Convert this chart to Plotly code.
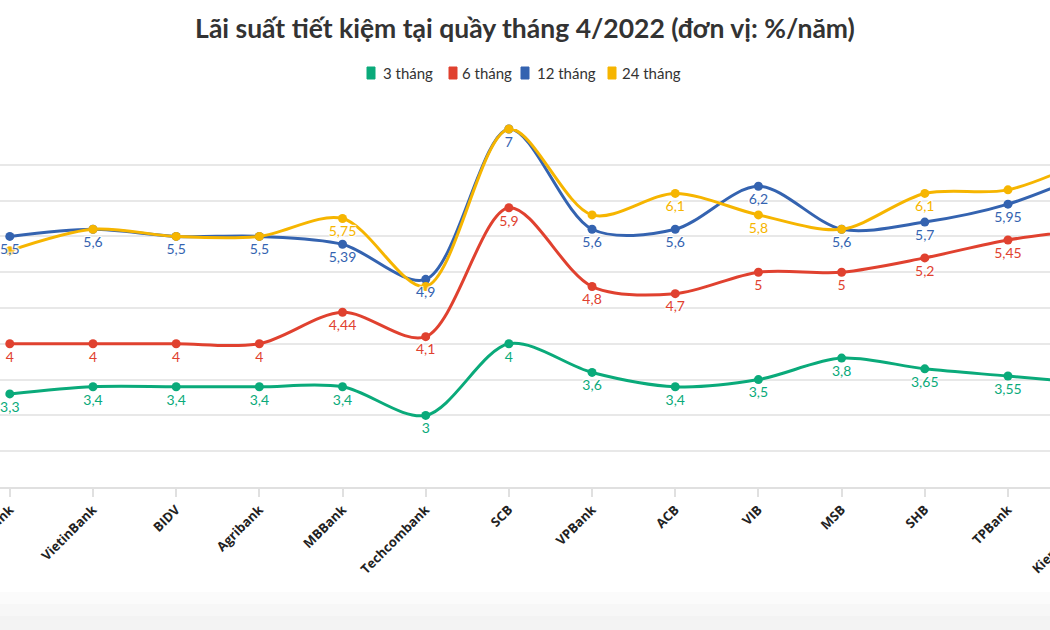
import plotly.graph_objects as go

banks = ["Vietcombank", "VietinBank", "BIDV", "Agribank", "MBBank", "Techcombank",
         "SCB", "VPBank", "ACB", "VIB", "MSB", "SHB", "TPBank", "Kienlongbank"]

rate_3m = [3.3, 3.4, 3.4, 3.4, 3.4, 3.0, 4.0, 3.6, 3.4, 3.5, 3.8, 3.65, 3.55, 3.45]
rate_6m = [4.0, 4.0, 4.0, 4.0, 4.44, 4.1, 5.9, 4.8, 4.7, 5.0, 5.0, 5.2, 5.45, 5.6]
rate_12m = [5.5, 5.6, 5.5, 5.5, 5.39, 4.9, 7.0, 5.6, 5.6, 6.2, 5.6, 5.7, 5.95, 6.4]
rate_24m = [5.3, 5.6, 5.5, 5.5, 5.75, 4.8, 7.0, 5.8, 6.1, 5.8, 5.6, 6.1, 6.15, 6.6]

# which labels are visible (others hidden by overlap or off-screen)
show_all = [True] * 13 + [False]
show_24m = [False, False, False, False, True, False, False, False, True, True, False, True, False, False]

series_names = ["3 tháng", "6 tháng", "12 tháng", "24 tháng"]
colors = ["#0aaa7a", "#e0412f", "#3463b0", "#f6b500"]

W, H = 1050, 630
PLOT_TOP, PLOT_BOTTOM = 129, 487


def fmt(v):
    return ("%g" % v).replace(".", ",")


def px_to_paper_y(py):
    return (PLOT_BOTTOM - py) / (PLOT_BOTTOM - PLOT_TOP)


xs = list(range(len(banks)))
fig = go.Figure()

all_series = [rate_3m, rate_6m, rate_12m, rate_24m]
for name, vals, col in zip(series_names, all_series, colors):
    fig.add_trace(go.Scatter(
        x=xs, y=vals, mode="lines+markers", name=name, showlegend=False,
        line=dict(color=col, width=3, shape="spline", smoothing=0.9),
        marker=dict(color=col, size=9),
        cliponaxis=False, hoverinfo="skip",
    ))

shadow = "1px 1px 1px #fff, -1px -1px 1px #fff, 1px -1px 1px #fff, -1px 1px 1px #fff"
label_masks = [show_all, show_all, show_all, show_24m]
for name, vals, col, mask in zip(series_names, all_series, colors, label_masks):
    fig.add_trace(go.Scatter(
        x=xs, y=vals, mode="markers+text", showlegend=False,
        marker=dict(size=10, opacity=0),
        text=[fmt(v) if m else "" for v, m in zip(vals, mask)],
        textposition="bottom center",
        textfont=dict(family="Lato", size=14, color=col, shadow=shadow),
        cliponaxis=False, hoverinfo="skip",
    ))

px_per_cat = 83.18
x0 = -9.8 / px_per_cat
x1 = x0 + W / px_per_cat

fig.update_layout(
    width=W, height=H,
    margin=dict(l=0, r=0, t=PLOT_TOP, b=H - PLOT_BOTTOM, autoexpand=False),
    paper_bgcolor="white", plot_bgcolor="white",
    title=dict(text="<b>Lãi suất tiết kiệm tại quầy tháng 4/2022 (đơn vị: %/năm)</b>",
               x=0.5, xanchor="center", y=1 - 29 / H, yanchor="middle",
               font=dict(family="Lato", size=26.5, color="#333333")),
    showlegend=False,
    xaxis=dict(range=[x0, x1], tickmode="array", tickvals=xs, ticktext=banks,
               tickangle=-45, ticklabeloverflow="allow", automargin=False,
               tickfont=dict(family="Open Sans", size=13, color="#222222", weight="bold"),
               showgrid=False, showline=True, linecolor="#e0e0e0", linewidth=2,
               ticks="outside", ticklen=8, tickcolor="#e0e0e0", tickwidth=2,
               zeroline=False, fixedrange=True),
    yaxis=dict(range=[2, 7], dtick=0.5, showticklabels=False, showgrid=True,
               automargin=False,
               gridcolor="#e8e8e8", gridwidth=2, zeroline=False, fixedrange=True),
)

# custom legend (swatches + labels)
legend_swatch_x = [367, 449, 521, 608]
legend_text_x = [381, 460, 535, 620]
for name, col, sx, tx in zip(series_names, colors, legend_swatch_x, legend_text_x):
    xa, xb = sx / W, (sx + 8) / W
    ya, yb = px_to_paper_y(79), px_to_paper_y(67)
    fig.add_shape(type="rect", xref="paper", yref="paper", x0=xa, x1=xb, y0=ya, y1=yb,
                  fillcolor=col, line=dict(color=col, width=1))
    fig.add_annotation(text=name, xref="paper", yref="paper", x=tx / W, y=px_to_paper_y(73),
                       xanchor="left", yanchor="middle", showarrow=False,
                       font=dict(family="Lato", size=15, color="#333333"))

# Kienlongbank tick label (cut off at the right edge, as in the reference)
fig.add_annotation(text="<b>Kienlongbank</b>", xref="paper", yref="paper",
                   x=1066 / W, y=px_to_paper_y(539),
                   textangle=-45, showarrow=False, xanchor="center", yanchor="middle",
                   font=dict(family="Open Sans", size=13, color="#222222"))

# light grey band at the bottom
for (a, b, c) in [(592, 604, "#fbfbfb"), (604, 616, "#f7f7f7"), (616, 631, "#f3f3f3")]:
    fig.add_shape(type="rect", xref="paper", yref="paper", x0=0, x1=1,
                  y0=px_to_paper_y(b), y1=px_to_paper_y(a),
                  fillcolor=c, line=dict(width=0), layer="below")

fig.write_html("out.html")
